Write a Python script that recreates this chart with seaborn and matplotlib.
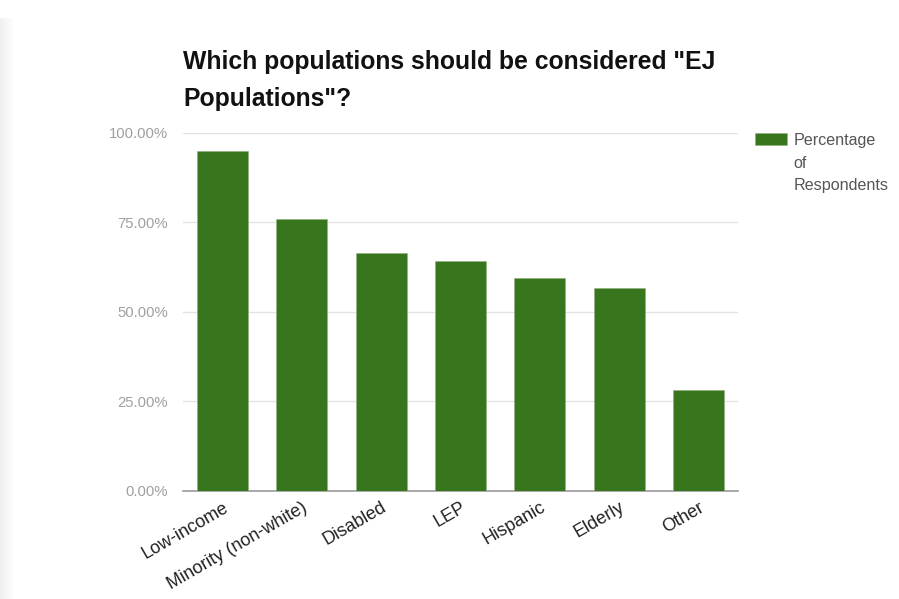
import matplotlib
matplotlib.use("Agg")
import matplotlib.pyplot as plt
import seaborn as sns
import pandas as pd
import numpy as np

categories = ["Low-income", "Minority (non-white)", "Disabled", "LEP", "Hispanic", "Elderly", "Other"]
values = [94.9, 76.0, 66.4, 64.2, 59.4, 56.8, 28.2]
series_label = "Percentage\nof\nRespondents"
y_ticks = [0, 25, 50, 75, 100]
title = 'Which populations should be considered "EJ\nPopulations"?'

sns.set_theme(style="white")
plt.rcParams['font.family'] = ['Liberation Sans', 'DejaVu Sans']

df = pd.DataFrame({"category": categories, "value": values})

fig = plt.figure(figsize=(8.99, 5.99), dpi=100)
fig.patch.set_facecolor("white")

# subtle card shadow at left edge
for i in range(14):
    a = 0.06 * (1 - i / 14)
    fig.patches.append(plt.Rectangle((i / 899, 0), 1 / 899, 1 - 18 / 599,
                                     transform=fig.transFigure, color="black",
                                     alpha=a, lw=0, zorder=0))

ax = fig.add_axes([183 / 899, 1 - 490.7 / 599, (738 - 183) / 899, (490.7 - 133) / 599])
sns.barplot(data=df, x="category", y="value", color="#38761d", width=0.645,
            saturation=1, ax=ax, label=series_label, edgecolor="#8fb07f", linewidth=0.4,
            zorder=3)

ax.set_xlim(-0.5, 6.5)
ax.set_ylim(0, 100)
ax.set_yticks(y_ticks)
ax.set_yticklabels([f"{v:.2f}%" for v in y_ticks], color="#a0a0a0", fontsize=10.7)
ax.tick_params(axis="y", length=0, pad=11)
ax.tick_params(axis="x", length=0, pad=6)
ax.set_xticks(range(len(categories)))
ax.set_xticklabels(categories, rotation=30, ha="right", rotation_mode="anchor",
                   fontsize=13, color="#222222")
ax.set_xlabel("")
ax.set_ylabel("")
ax.grid(axis="y", color="#e3e3e3", lw=1, zorder=0)
for s in ["left", "right", "top"]:
    ax.spines[s].set_visible(False)
ax.spines["bottom"].set_color("#999999")
ax.spines["bottom"].set_linewidth(1.2)

leg = ax.legend(loc="upper left", bbox_to_anchor=(755 / 899, 1 - 133 / 599),
                bbox_transform=fig.transFigure, frameon=False, fontsize=11.6,
                handlelength=2.0, handleheight=0.8, handletextpad=0.4,
                borderaxespad=0, borderpad=0)
for t in leg.get_texts():
    t.set_color("#555555")
    t.set_linespacing(1.63)
# align the colour swatch with the first line of the label
for col in leg._legend_handle_box.get_children():
    for item in col.get_children():
        item.align = "top"

fig.text(183 / 899, 1 - 50 / 599, title, fontsize=17.8, fontweight="bold",
         color="#111111", va="top", ha="left", linespacing=1.66)

fig.savefig("out.png", dpi=100, facecolor="white")
